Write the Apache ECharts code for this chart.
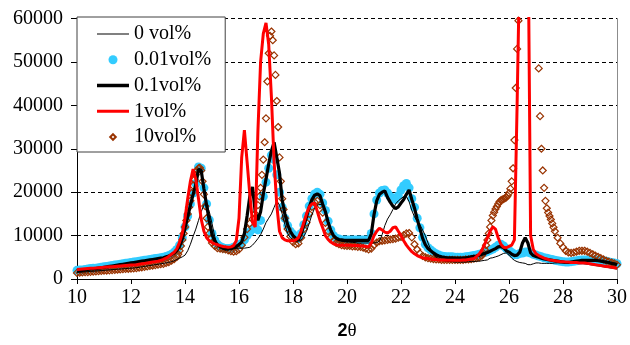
<!DOCTYPE html>
<html>
<head>
<meta charset="utf-8">
<script src="https://cdn.jsdelivr.net/npm/echarts@6/dist/echarts.min.js"></script>
<style>
html, body { margin: 0; padding: 0; background: #fff; }
#chart { width: 630px; height: 345px; }
</style>
</head>
<body>
<div id="chart"></div>
<script>
// Diffraction angle grid (2θ, degrees) shared by the four line/dot series
const twoTheta = [
  10,10.1,10.2,10.3,10.4,10.5,10.6,10.7,10.8,10.9,
  11,11.1,11.2,11.3,11.4,11.5,11.6,11.7,11.8,11.9,
  12,12.1,12.2,12.3,12.4,12.5,12.6,12.7,12.8,12.9,
  13,13.1,13.2,13.3,13.4,13.5,13.6,13.7,13.8,13.9,
  14,14.1,14.2,14.3,14.4,14.5,14.6,14.7,14.8,14.9,
  15,15.1,15.2,15.3,15.4,15.5,15.6,15.7,15.8,15.9,
  16,16.1,16.2,16.3,16.4,16.5,16.6,16.7,16.8,16.9,
  17,17.1,17.2,17.3,17.4,17.5,17.6,17.7,17.8,17.9,
  18,18.1,18.2,18.3,18.4,18.5,18.6,18.7,18.8,18.9,
  19,19.1,19.2,19.3,19.4,19.5,19.6,19.7,19.8,19.9,
  20,20.1,20.2,20.3,20.4,20.5,20.6,20.7,20.8,20.9,
  21,21.1,21.2,21.3,21.4,21.5,21.6,21.7,21.8,21.9,
  22,22.1,22.2,22.3,22.4,22.5,22.6,22.7,22.8,22.9,
  23,23.1,23.2,23.3,23.4,23.5,23.6,23.7,23.8,23.9,
  24,24.1,24.2,24.3,24.4,24.5,24.6,24.7,24.8,24.9,
  25,25.1,25.2,25.3,25.4,25.5,25.6,25.7,25.8,25.9,
  26,26.1,26.2,26.3,26.4,26.5,26.6,26.7,26.8,26.9,
  27,27.1,27.2,27.3,27.4,27.5,27.6,27.7,27.8,27.9,
  28,28.1,28.2,28.3,28.4,28.5,28.6,28.7,28.8,28.9,
  29,29.1,29.2,29.3,29.4,29.5,29.6,29.7,29.8,29.9,
  30
];

// Intensity, 0 vol%
const vol0 = [
  1500,1550,1600,1650,1700,1750,1800,1850,1900,1950,
  2000,2050,2100,2150,2200,2250,2300,2350,2400,2450,
  2500,2550,2600,2700,2800,2900,3000,3100,3200,3300,
  3400,3500,3600,3700,3850,4000,4200,4500,4800,5100,
  5500,6500,8000,9800,11500,13500,15500,17000,17300,15500,
  12800,9800,7800,7300,7100,7000,7000,7000,7000,7050,
  7100,7100,7100,7200,7300,7800,8500,9300,10200,11500,
  13000,14000,15000,16500,18000,17000,15000,12500,10500,9500,
  9000,8700,8700,9000,9800,11000,12800,14800,16300,17000,
  17200,17000,15800,13500,11700,10200,9300,8900,8700,8600,
  8500,8500,8400,8400,8300,8300,8300,8300,8300,8300,
  8300,8400,8700,10200,12300,13800,14800,16000,17300,18000,
  18500,19000,19000,17800,15800,14300,13300,12500,11300,10000,
  8300,6800,5600,5000,4600,4400,4200,4100,4000,4000,
  3900,3900,3900,3900,3900,4000,4000,4000,4100,4100,
  4200,4300,4400,4800,4900,5100,5300,5600,5900,6000,
  5500,4800,4300,4000,3800,3700,3600,3300,3300,3500,
  3700,3700,3600,3600,3600,3600,3600,3700,3700,3700,
  3800,3800,3800,3800,3800,3800,3700,3600,3500,3400,
  3300,3200,3100,3000,2900,2800,2700,2600,2500,2400,
  2300
];

// Intensity, 0.01 vol%
const vol001 = [
  2000,2050,2100,2200,2300,2400,2450,2500,2600,2700,
  2800,2900,3000,3100,3200,3300,3400,3500,3600,3700,
  3800,3900,4000,4100,4200,4300,4400,4500,4600,4700,
  4800,4900,5000,5200,5400,5700,6200,6800,7800,9500,
  12000,14500,17300,19800,22000,25800,25500,21000,17300,13600,
  10500,9000,8000,7500,7200,7000,7000,7100,7300,7600,
  7900,8200,9000,10000,10800,11500,12000,11300,13500,19000,
  22300,25500,28500,27500,24000,20000,16500,14000,12300,11000,
  10300,9700,9300,10500,12500,14500,16800,18500,19600,20000,
  19500,17500,15800,13300,11300,10000,9400,9200,9000,9000,
  9000,9000,9000,9000,9000,9000,9000,9000,9000,10500,
  15000,18200,19800,20400,20500,19800,19000,18500,18300,19200,
  20500,21500,22000,21000,18500,16500,14000,11800,9600,8000,
  7200,6700,6200,5800,5500,5300,5200,5100,5100,5100,
  5000,5000,5000,5000,5100,5200,5300,5400,5500,5700,
  5900,6100,6300,6600,6900,7300,7800,8000,7600,7000,
  6600,6100,5600,5600,5900,6000,6200,6200,6000,5700,
  5500,5300,5100,4900,4800,4600,4500,4300,4200,4100,
  4000,3900,3900,4000,4100,4200,4300,4400,4400,4400,
  4400,4400,4400,4400,4300,4200,4100,3900,3800,3700,
  3500
];

// Intensity, 0.1 vol%
const vol01 = [
  1900,1950,2000,2100,2200,2300,2350,2400,2500,2600,
  2700,2800,2900,3000,3100,3200,3300,3400,3500,3600,
  3700,3800,3900,4000,4100,4200,4300,4400,4500,4600,
  4700,4800,4900,5100,5300,5600,6000,6600,7500,9200,
  11800,14300,17000,19500,21700,25300,25000,20800,17000,13400,
  10300,8800,7900,7400,7100,6900,6900,7000,7200,7500,
  7900,8500,10500,14500,19000,21200,15500,13500,15500,19500,
  23000,26500,29500,31500,28000,24400,18200,15000,12500,11000,
  10000,9400,9100,10300,12300,14300,16500,18300,19300,19600,
  19200,17200,15500,13100,11200,10000,9400,9100,9000,8900,
  8900,8900,8900,8900,8900,8900,8900,8900,8900,10400,
  14800,18000,19500,20000,20300,18800,17700,16800,16200,16600,
  17500,18300,19500,20500,18300,16300,13800,11600,9400,7900,
  7000,6500,6000,5600,5300,5100,5000,4900,4900,4900,
  4800,4800,4800,4800,4900,5000,5100,5200,5300,5500,
  5700,5900,6100,6400,6700,7000,7400,7500,7200,6500,
  6200,5700,5400,5500,6200,8300,9500,8300,6000,5400,
  5200,5000,4800,4600,4500,4400,4300,4200,4100,4000,
  3900,3800,3800,3900,4000,4100,4200,4300,4300,4300,
  4300,4300,4300,4200,4100,4000,3900,3800,3600,3500,
  3300
];

// Intensity, 1 vol% (the 26.6° reflection runs off the top of the scale)
const vol1 = [
  2200,2250,2300,2350,2400,2450,2500,2550,2600,2650,
  2700,2750,2800,2850,2900,2950,3000,3050,3100,3150,
  3200,3250,3300,3400,3500,3600,3700,3800,3900,4000,
  4100,4300,4500,4800,5200,5700,6200,7000,8500,10500,
  14000,18500,22500,25300,23000,18500,13800,11000,9500,8800,
  8400,8100,7900,7700,7500,7400,7300,7400,7700,8800,
  14000,28000,34300,27000,19500,13000,12000,34000,50000,56500,
  59000,54000,42000,27000,17000,11000,9500,9000,8800,8800,
  8800,9000,9500,11000,13000,15000,16600,17300,17500,15600,
  13500,11800,10000,9100,8500,8100,7900,7800,7800,7800,
  7800,7800,7700,7700,7700,7600,7600,7500,7400,8300,
  10000,11000,11700,11300,10800,10600,11000,11800,12000,11000,
  10000,8800,7800,7000,6300,5800,5400,5100,4900,4800,
  4700,4600,4500,4500,4400,4400,4400,4300,4300,4300,
  4300,4300,4300,4400,4400,4500,4600,4700,5200,5800,
  6700,8000,9500,11000,12000,11500,9500,8000,7300,7200,
  7500,7800,9000,40000,75000,100000,110000,85000,10000,6800,
  5800,5400,5100,4800,4600,4400,4300,4200,4100,4000,
  4000,3900,3900,3800,3800,3800,3700,3700,3700,3600,
  3500,3400,3300,3200,3100,3000,2900,2800,2700,2600,
  2500
];

// 10 vol% as [2θ, intensity] pairs, sampled more finely across the steep peaks
const vol10 = [
  [10,1400],[10.1,1450],[10.2,1500],[10.3,1550],[10.4,1600],[10.5,1650],[10.6,1700],[10.7,1750],[10.8,1800],[10.9,1850],
  [11,1900],[11.1,1950],[11.2,2000],[11.3,2050],[11.4,2100],[11.5,2150],[11.6,2200],[11.7,2250],[11.8,2300],[11.9,2350],
  [12,2400],[12.1,2450],[12.2,2500],[12.3,2600],[12.4,2700],[12.5,2800],[12.6,2900],[12.7,3000],[12.8,3100],[12.9,3200],
  [13,3300],[13.1,3400],[13.2,3500],[13.3,3700],[13.4,3900],[13.5,4200],[13.6,4600],[13.7,5100],[13.75,5700],[13.8,6500],
  [13.85,7600],[13.9,9000],[13.95,10500],
  [14,12000],[14.05,13500],[14.1,15000],[14.15,16500],[14.2,18000],[14.25,19800],[14.3,21500],[14.35,22900],[14.4,24000],
  [14.45,25000],[14.5,25500],[14.55,25600],[14.6,25000],[14.65,22500],[14.7,19500],[14.75,16800],[14.8,14000],[14.85,12000],
  [14.9,10500],[14.95,9300],
  [15,8300],[15.1,7600],[15.2,7100],[15.3,7000],[15.4,6900],[15.5,6800],[15.6,6600],[15.7,6400],[15.8,6300],[15.9,6400],
  [16,6800],[16.1,7800],[16.2,9600],[16.3,11500],[16.4,12800],[16.5,13800],[16.6,15000],[16.7,17000],[16.75,19000],[16.8,21000],
  [16.85,24000],[16.9,27500],[16.95,31500],
  [17,37000],[17.05,45500],[17.1,52000],[17.15,56000],[17.2,57000],[17.25,55000],[17.3,51500],[17.35,47000],[17.4,41000],
  [17.45,35000],[17.5,28000],[17.55,22500],[17.6,18500],[17.65,16000],[17.7,14000],[17.8,11500],[17.9,9800],
  [18,8500],[18.1,8000],[18.2,8200],[18.3,9500],[18.4,11500],[18.5,13000],[18.6,15000],[18.7,16600],[18.8,17700],[18.9,18000],
  [19,17000],[19.1,15300],[19.2,12900],[19.3,11000],[19.4,9600],[19.5,8800],[19.6,8300],[19.7,8000],[19.8,7800],[19.9,7700],
  [20,7600],[20.1,7600],[20.2,7500],[20.3,7500],[20.4,7400],[20.5,7400],[20.6,7200],[20.7,7000],[20.8,6800],[20.9,7000],
  [21,7800],[21.1,8400],[21.2,8700],[21.3,8800],[21.4,8900],[21.5,9000],[21.6,9100],[21.7,9200],[21.8,9300],[21.9,9500],
  [22,9700],[22.1,10100],[22.2,10500],[22.3,10600],[22.4,9600],[22.5,8000],[22.6,6800],[22.7,5900],[22.8,5300],[22.9,5000],
  [23,4800],[23.1,4700],[23.2,4600],[23.3,4500],[23.4,4500],[23.5,4400],[23.6,4400],[23.7,4400],[23.8,4400],[23.9,4400],
  [24,4400],[24.1,4400],[24.2,4400],[24.3,4400],[24.4,4500],[24.5,4500],[24.6,4600],[24.7,4700],[24.8,4800],[24.9,5000],
  [25,5400],[25.05,6000],[25.1,6800],[25.15,7800],[25.2,9000],[25.25,10500],[25.3,12000],[25.35,13500],[25.4,14600],
  [25.45,15400],[25.5,16100],[25.55,16700],[25.6,17300],[25.65,17800],[25.7,18100],[25.75,18300],[25.8,18400],[25.85,18600],
  [25.9,18800],[25.95,19200],
  [26,19800],[26.05,20800],[26.1,22500],[26.15,25500],[26.2,32000],[26.25,44000],[26.3,53000],[26.35,59500],[26.4,70000],
  [26.5,85000],[26.6,95000],[26.7,98000],[26.8,92000],[26.9,80000],
  [27,68000],[27.05,62000],[27.1,48500],[27.15,37500],[27.2,30000],[27.25,25000],[27.3,21000],[27.35,18000],[27.4,16300],
  [27.45,15300],[27.5,14500],[27.55,13700],[27.6,12800],[27.65,11900],[27.7,11000],[27.8,9500],[27.9,8200],
  [28,7300],[28.1,6500],[28.2,6100],[28.3,6000],[28.4,6100],[28.5,6300],[28.6,6500],[28.7,6500],[28.8,6500],[28.9,6300],
  [29,6000],[29.1,5700],[29.2,5400],[29.3,5100],[29.4,4800],[29.5,4500],[29.6,4200],[29.7,4000],[29.8,3800],[29.9,3600],
  [30,3300]
];

const seriesNames = ['0 vol%', '0.01vol%', '0.1vol%', '1vol%', '10vol%'];

const pair = (ys) => twoTheta.map((x, i) => [x, ys[i]]);

const serif = 'Liberation Serif, Times New Roman, serif';

// Legend keys: a 32x14 box (corner move-tos) holding a bar, dot or diamond
const keyBar = (h) => 'path://M0,0M32,0M32,14M0,14M0,' + (7 - h / 2) + 'L32,' + (7 - h / 2) + 'L32,' + (7 + h / 2) + 'L0,' + (7 + h / 2) + 'Z';
const keyDot = 'path://M0,0M32,0M32,14M0,14M11.5,7A4.5,4.5,0,1,1,20.5,7A4.5,4.5,0,1,1,11.5,7Z';
const keyDiamond = 'path://M0,0M32,0M32,14M0,14M16,4.2L18.8,7L16,9.8L13.2,7Z';

const chart = echarts.init(document.getElementById('chart'), null, { renderer: 'canvas' });

chart.setOption({
  animation: false,
  backgroundColor: '#fff',
  grid: { left: 77, right: 13, top: 18.5, bottom: 66, outerBoundsMode: 'none', containLabel: false },
  legend: {
    orient: 'vertical',
    left: 77,
    top: 17,
    z: 10,
    itemWidth: 32,
    itemHeight: 14,
    itemGap: 5.75,
    padding: [7, 14, 5, 19],
    backgroundColor: '#fff',
    borderColor: '#404040',
    borderWidth: 1,
    borderRadius: 0,
    selectedMode: false,
    textStyle: { fontFamily: serif, fontSize: 20, color: '#000', lineHeight: 20 },
    data: [
      { name: seriesNames[0], icon: keyBar(1), itemStyle: { color: '#000', borderWidth: 0 } },
      { name: seriesNames[1], icon: keyDot },
      { name: seriesNames[2], icon: keyBar(3.5), itemStyle: { color: '#000', borderWidth: 0 } },
      { name: seriesNames[3], icon: keyBar(3), itemStyle: { color: '#ff0000', borderWidth: 0 } },
      { name: seriesNames[4], icon: keyDiamond }
    ]
  },
  xAxis: [
    {
      type: 'value',
      min: 10, max: 30, interval: 2,
      axisLine: { show: true, lineStyle: { color: '#000', width: 1 } },
      axisTick: { show: true, length: 5, lineStyle: { color: '#000' } },
      splitLine: { show: false },
      axisLabel: { fontFamily: serif, fontSize: 20, color: '#000', margin: 9 },
      name: '{d|2}{t|θ}',
      nameLocation: 'middle',
      nameGap: 43,
      nameTextStyle: {
        rich: {
          d: { fontFamily: 'Liberation Sans, Arial, sans-serif', fontWeight: 'bold', fontSize: 18, color: '#000' },
          t: { fontFamily: serif, fontSize: 19, color: '#000' }
        }
      }
    },
    {
      type: 'value',
      position: 'top',
      min: 10, max: 30, interval: 2,
      axisLine: { show: true, lineStyle: { color: '#000', width: 1 } },
      axisTick: { show: false },
      axisLabel: { show: false },
      splitLine: { show: false }
    }
  ],
  yAxis: [
    {
      type: 'value',
      min: 0, max: 60000, interval: 10000,
      axisLine: { show: true, lineStyle: { color: '#000', width: 1 } },
      axisTick: { show: true, length: 6, lineStyle: { color: '#000' } },
      splitLine: { show: true, lineStyle: { color: '#000', width: 1, type: [4, 3] } },
      axisLabel: { fontFamily: serif, fontSize: 20, color: '#000', margin: 14, formatter: (v) => String(v) }
    },
    {
      type: 'value',
      position: 'right',
      min: 0, max: 60000, interval: 10000,
      axisLine: { show: true, lineStyle: { color: '#8c8c8c', width: 1 } },
      axisTick: { show: false },
      axisLabel: { show: false },
      splitLine: { show: false }
    }
  ],
  series: [
    {
      name: seriesNames[0],
      type: 'line',
      data: pair(vol0),
      symbol: 'none',
      lineStyle: { color: '#000', width: 1 },
      itemStyle: { color: '#000' }
    },
    {
      name: seriesNames[2],
      type: 'line',
      data: pair(vol01),
      symbol: 'none',
      lineStyle: { color: '#000', width: 3.2 },
      itemStyle: { color: '#000' }
    },
    {
      name: seriesNames[1],
      type: 'scatter',
      data: pair(vol001),
      symbol: 'circle',
      symbolSize: 9,
      itemStyle: { color: '#33ccff', opacity: 1 }
    },
    {
      name: seriesNames[3],
      type: 'line',
      data: pair(vol1),
      symbol: 'none',
      lineStyle: { color: '#ff0000', width: 3 },
      itemStyle: { color: '#ff0000' }
    },
    {
      name: seriesNames[4],
      type: 'scatter',
      data: vol10,
      symbol: 'diamond',
      symbolSize: 7,
      itemStyle: { color: 'rgba(255,255,255,0)', borderColor: '#993300', borderWidth: 1.2, opacity: 1 }
    }
  ]
});
</script>
</body>
</html>
